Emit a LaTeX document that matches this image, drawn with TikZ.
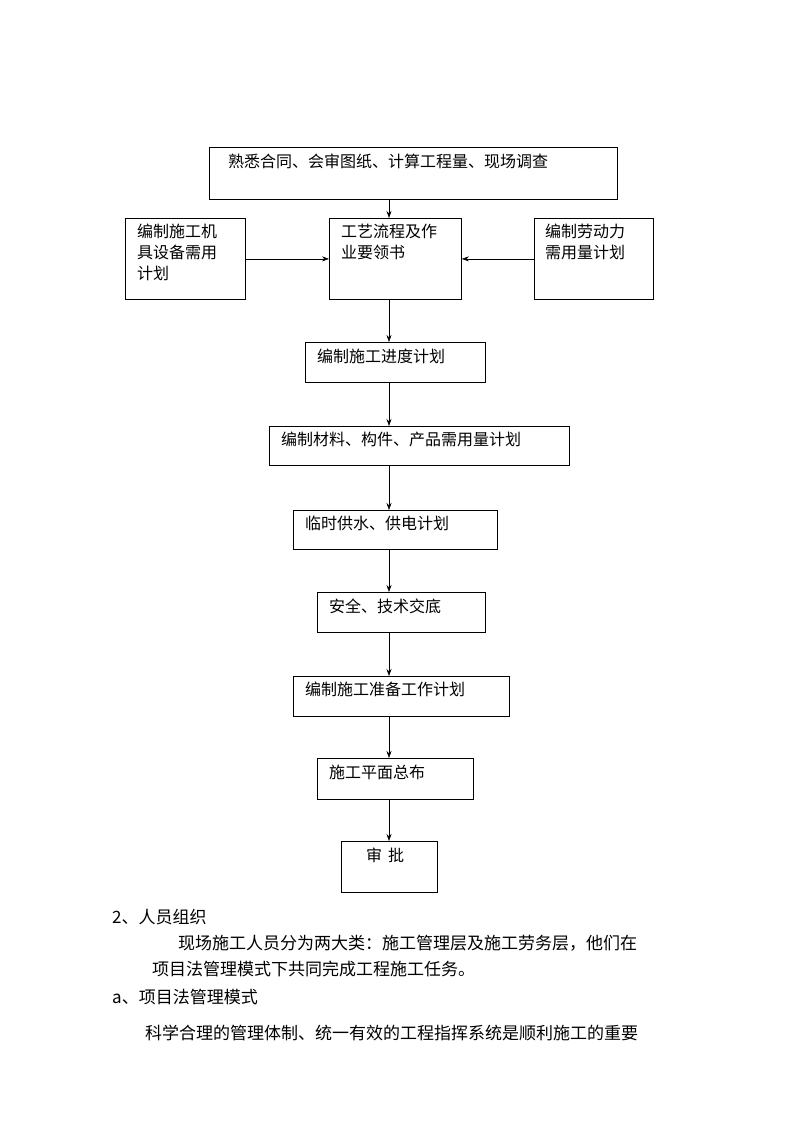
\documentclass[tikz,border=0pt]{standalone}
\usepackage{fontspec}
\newfontfamily\cjk{Noto Sans CJK SC}
\usetikzlibrary{arrows.meta}
\begin{document}
\begin{tikzpicture}[x=1pt,y=-1pt,
  box/.style={draw,line width=0.8pt,anchor=north west,inner sep=0pt},
  lbl/.style={anchor=north west,inner sep=0pt,font=\cjk\fontsize{16}{21}\selectfont,align=left},
  txt/.style={anchor=west,inner sep=0pt,font=\cjk\fontsize{17}{21}\selectfont},
  arr/.style={-{Stealth[length=7pt,width=5pt]},line width=0.6pt}]
\useasboundingbox (0,0) rectangle (794,1123);
\node[box,minimum width=408,minimum height=52] (b1) at (209,147) {};
\node[lbl] at (228,154) {熟悉合同、会审图纸、计算工程量、现场调查};
\node[box,minimum width=120,minimum height=81] (bl) at (125,218) {};
\node[lbl] at (137,224) {编制施工机\\具设备需用\\计划};
\node[box,minimum width=132,minimum height=81] (bm) at (329,218) {};
\node[lbl] at (341,224) {工艺流程及作\\业要领书};
\node[box,minimum width=119,minimum height=81] (br) at (534,218) {};
\node[lbl] at (545,224) {编制劳动力\\需用量计划};
\node[box,minimum width=180,minimum height=40] (b5) at (305,342) {};
\node[lbl] at (317,349) {编制施工进度计划};
\node[box,minimum width=300,minimum height=39] (b6) at (269,426) {};
\node[lbl] at (281,432) {编制材料、构件、产品需用量计划};
\node[box,minimum width=204,minimum height=39] (b7) at (293,510) {};
\node[lbl] at (305,516) {临时供水、供电计划};
\node[box,minimum width=168,minimum height=40] (b8) at (317,592) {};
\node[lbl] at (329,599) {安全、技术交底};
\node[box,minimum width=216,minimum height=40] (b9) at (293,676) {};
\node[lbl] at (305,682) {编制施工准备工作计划};
\node[box,minimum width=156,minimum height=41] (b10) at (317,758) {};
\node[lbl] at (329,765) {施工平面总布};
\node[box,minimum width=96,minimum height=51] (b11) at (341,841) {};
\node[lbl] at (366,848) {审\hspace{6pt}批};
\draw[arr] (389,199) -- (389,218);
\draw[arr] (bl.east) -- (bm.west);
\draw[arr] (br.west) -- (bm.east);
\draw[arr] (389,299) -- (389,342);
\draw[arr] (389,382) -- (389,426);
\draw[arr] (389,465) -- (389,510);
\draw[arr] (389,549) -- (389,592);
\draw[arr] (389,632) -- (389,676);
\draw[arr] (389,716) -- (389,758);
\draw[arr] (389,799) -- (389,841);
\node[txt] (t1) at (112,917) {2、人员组织};
\node[txt] (t2) at (178,943) {现场施工人员分为两大类：施工管理层及施工劳务层，他们在};
\node[txt] (t3) at (152,969) {项目法管理模式下共同完成工程施工任务。};
\node[txt] (t4) at (112,997) {a、项目法管理模式};
\node[txt] (t5) at (145,1033) {科学合理的管理体制、统一有效的工程指挥系统是顺利施工的重要};
\end{tikzpicture}
\end{document}
